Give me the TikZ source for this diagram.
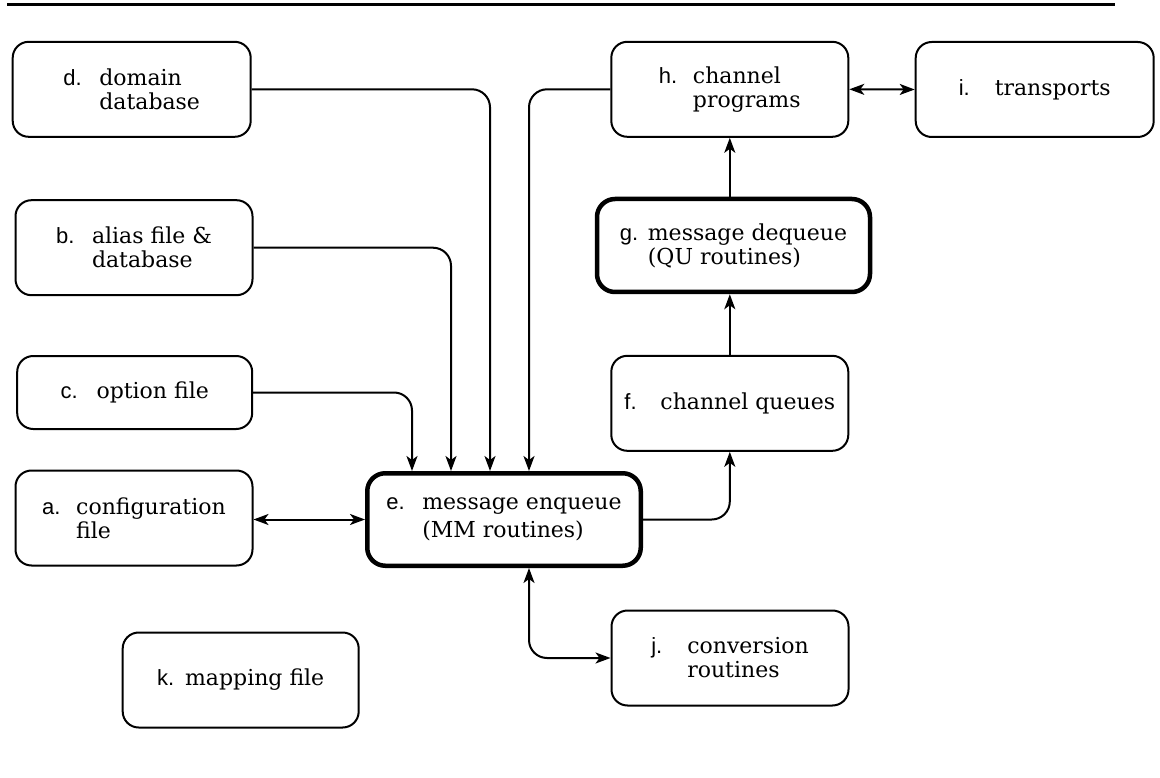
\documentclass[tikz,border=0pt]{standalone}
\usepackage{fontspec}
\setmainfont{DejaVu Serif}
\newfontfamily\lettfont{Liberation Sans}
\usetikzlibrary{arrows.meta}
\newcommand\lt[2][36pt]{\makebox[#1][l]{\lettfont #2}}
\tikzset{
  tip/.tip={Stealth[length=15pt,width=11pt,inset=4pt]},
  box/.style={draw, line width=2pt, rounded corners=16pt, minimum width=237pt,
    minimum height=95pt, inner sep=0pt, align=left,
    font=\fontsize{22}{24}\selectfont},
  thickbox/.style={box, line width=4.5pt, rounded corners=18pt},
  conn/.style={line width=2pt, rounded corners=18pt, -tip},
  biconn/.style={conn, tip-tip}
}
\begin{document}
\begin{tikzpicture}[x=1pt,y=-1pt]
\useasboundingbox (0,0) rectangle (1160,778);
% top rule
\draw[line width=3pt] (7,4.7) coordinate (r1) -- (1114.6,4.7) coordinate (r2);
% boxes
\node[box, minimum width=238pt] (d) at (131.7,89.3) {\lt{d.}domain\\\lt{}database};
\node[box] (b) at (134,247.7) {\lt{b.}alias file \&\\\lt{}database};
\node[box, minimum height=73pt, minimum width=235pt] (c) at (134.7,392.5) {\lt{c.}option file};
\node[box] (a) at (134,518) {\lt[34pt]{a.}configuration\\\lt[34pt]{}file};
\node[box, minimum width=236pt] (k) at (240.7,680) {\lt[28pt]{k.}mapping file};
\node[thickbox, minimum width=273.5pt, minimum height=92.5pt,
  font=\fontsize{22}{28}\selectfont] (e) at (504,519.5) {\lt{e.}message enqueue\\\lt{}(MM routines)};
\node[box] (h) at (729.8,89.3) {\lt[34pt]{h.}channel\\\lt[34pt]{}programs};
\node[box, minimum width=238pt] (i) at (1034.7,89.5) {\lt{i.}transports};
\node[thickbox, minimum width=273pt, minimum height=93pt] (g) at (733.5,245.5) {\lt[28pt]{g.}message dequeue\\\lt[28pt]{}(QU routines)};
\node[box] (f) at (729.8,403.3) {\lt{f.}channel queues};
\node[box] (j) at (730,658) {\lt{j.}conversion\\\lt{}routines};
% column coordinates
\coordinate (xc) at (412,0);
\coordinate (xb) at (451,0);
\coordinate (xd) at (490,0);
\coordinate (xh) at (529,0);
% connectors
\draw[conn] (c.east) -| (xc |- e.north);
\draw[conn] (b.east) -| (xb |- e.north);
\draw[conn] (d.east) -| (xd |- e.north);
\draw[conn] (h.west) -| (xh |- e.north);
\draw[biconn] (e.west -| a.east) -- (e.west);
\draw[biconn] (xh |- e.south) |- (j.west);
\draw[conn] (e.east) -| (f.south);
\draw[conn] (f.north) -- (f.north |- g.south);
\draw[conn] (g.north -| h.south) -- (h.south);
\draw[biconn] (h.east) -- (i.west);
\end{tikzpicture}
\end{document}
